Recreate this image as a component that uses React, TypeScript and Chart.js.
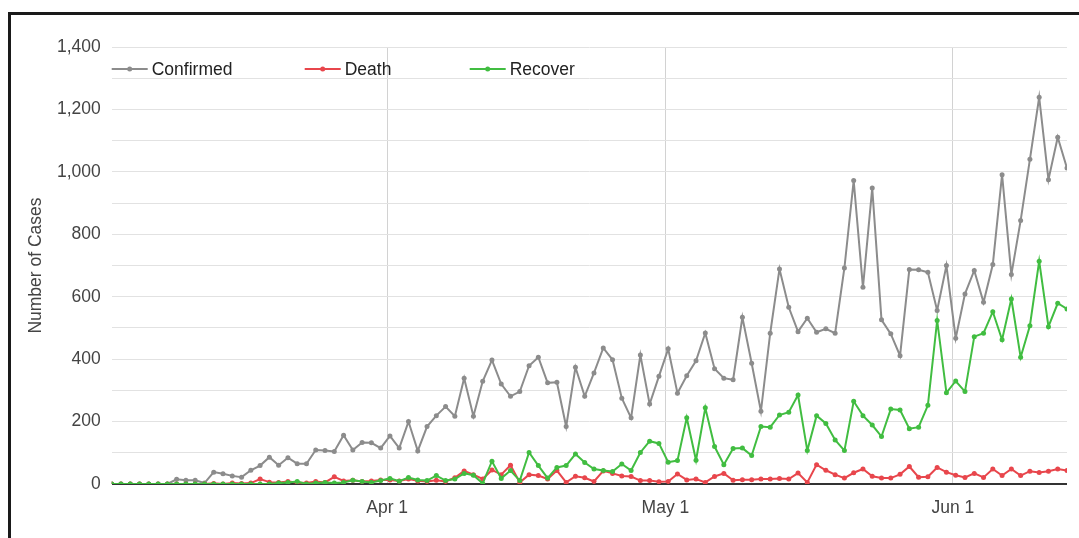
import React, { useEffect, useRef } from 'react';
import { Chart, registerables } from 'chart.js';

Chart.register(...registerables);

// Day 0 = Mar 2 (daily data through Jun 13)
const seriesNames = ['Confirmed', 'Death', 'Recover'];

const confirmed = [
  0, 0, 0, 0, 0, 0, 0, 15, 12, 12, 3, 38, 33, 26, 22, 44, 59, 86,
  60, 84, 65, 65, 109, 107, 104, 156, 109, 133, 132, 115, 154, 115, 200, 106, 184,
  219, 248, 217, 339, 217, 329, 397, 320, 281, 296, 379, 406, 324, 326, 184, 374, 281,
  356, 436, 398, 275, 212, 413, 256, 345, 433, 291, 347, 395, 484, 369, 339, 334, 534, 387,
  233, 483, 689, 566, 488, 531, 486, 497, 483, 692, 972, 630, 948, 526, 481, 411, 687,
  686, 678, 556, 700, 467, 609, 684, 582, 703, 991, 671, 844, 1040, 1239, 975, 1111, 1012,
];

const death = [
  0, 0, 0, 0, 0, 0, 0, 0, 0, 0, 0,
  2, 0, 3, 2, 3, 16,
  6, 5, 8, 5, 3, 8, 5, 23, 10, 12, 8, 10,
  13, 13, 10, 16, 10, 8, 12, 8, 20, 42, 30, 16,
  45, 30, 60, 5, 30, 27, 16, 43, 5, 25, 20, 8,
  42, 34, 26, 24, 11, 11, 7, 8, 32, 13, 16, 5,
  24, 34, 12, 14, 14, 16, 16, 18, 16, 35, 5, 62,
  44, 30, 19, 36, 48, 25, 19, 19, 31, 56, 22, 23,
  53, 38, 28, 21, 34, 21, 48, 27, 48, 27, 41, 37, 41, 48, 43,
];

const recover = [
  0, 0, 0, 0, 0, 0, 0, 0, 0, 0, 0, 0, 0, 0, 0, 0, 0, 0,
  3, 5, 8, 0, 3, 5, 3, 5, 12, 8, 5,
  11, 18, 9, 21, 13, 11, 27, 11, 16, 34, 28, 2,
  73, 18, 43, 11, 101, 59, 19, 53, 59, 96, 69, 48,
  43, 40, 64, 43, 101, 137, 130, 70, 75, 212, 76, 244,
  120, 62, 114, 115, 91, 184, 182, 221, 230, 285, 107, 219,
  194, 141, 107, 265, 219, 189, 152, 240, 237, 177, 182, 252,
  524, 292, 330, 296, 472, 483, 552, 462, 593, 406, 507, 714, 504, 579, 561,
];

const xTickLabels = ['Apr 1', 'May 1', 'Jun 1'];
const xTickDays = [30, 60, 91];

const colors = ['#8c8c8c', '#e8464c', '#41bd41'];
const FONT = 'Arial, "Liberation Sans", sans-serif';

const legendPlugin = {
  id: 'insideLegend',
  afterDraw(chart: any) {
    const { ctx, chartArea } = chart;
    const offsets = [0, 193, 358];
    const y = 69;
    ctx.save();
    ctx.font = `17.5px ${FONT}`;
    ctx.textBaseline = 'middle';
    ctx.textAlign = 'left';
    seriesNames.forEach((name, i) => {
      const x0 = chartArea.left + offsets[i];
      ctx.strokeStyle = colors[i];
      ctx.lineWidth = 2;
      ctx.beginPath();
      ctx.moveTo(x0, y);
      ctx.lineTo(x0 + 36, y);
      ctx.stroke();
      ctx.fillStyle = colors[i];
      ctx.beginPath();
      ctx.arc(x0 + 18, y, 2.5, 0, Math.PI * 2);
      ctx.fill();
      ctx.fillStyle = '#222';
      ctx.fillText(name, x0 + 40, y + 1);
    });
    ctx.restore();
  },
};

export default function App() {
  const ref = useRef<HTMLCanvasElement>(null);

  useEffect(() => {
    if (!ref.current) return;
    const all = [confirmed, death, recover];
    const chart = new Chart(ref.current, {
      type: 'line',
      data: {
        datasets: all.map((arr, i) => ({
          label: seriesNames[i],
          data: arr.map((v, d) => ({ x: d, y: v })),
          borderColor: colors[i],
          backgroundColor: colors[i],
          borderWidth: 2,
          pointRadius: 2.5,
          pointBorderWidth: 0,
          pointBackgroundColor: colors[i],
          tension: 0,
          order: 3 - i,
        })),
      },
      options: {
        animation: false,
        responsive: false,
        devicePixelRatio: 1,
        layout: { padding: { left: 0, top: 47, right: 12, bottom: 0 } },
        plugins: { legend: { display: false }, tooltip: { enabled: false } },
        scales: {
          x: {
            type: 'linear',
            min: 0,
            max: confirmed.length - 1,
            border: { display: false },
            grid: { color: '#d2d2d2', lineWidth: 1, drawTicks: false },
            afterBuildTicks: (scale: any) => {
              scale.ticks = xTickDays.map((d) => ({ value: d - 0.3 }));
            },
            afterFit: (scale: any) => {
              scale.height = 54;
            },
            ticks: {
              autoSkip: false,
              maxRotation: 0,
              padding: 14,
              color: '#444',
              font: { family: FONT, size: 17.5 },
              callback: (_v: any, idx: number) => xTickLabels[idx],
            },
          },
          y: {
            min: 0,
            max: 1400,
            border: { display: false },
            grid: {
              drawTicks: false,
              color: (c: any) => (c.tick && c.tick.value === 0 ? '#333' : '#e2e2e2'),
              lineWidth: (c: any) => (c.tick && c.tick.value === 0 ? 2 : 1),
            },
            afterFit: (scale: any) => {
              scale.width = 111.7;
            },
            title: {
              display: true,
              text: 'Number of Cases',
              color: '#444',
              font: { family: FONT, size: 17.5 },
              padding: { top: 26, bottom: 0 },
            },
            ticks: {
              stepSize: 100,
              autoSkip: false,
              padding: 11,
              color: '#444',
              font: { family: FONT, size: 17.5 },
              callback: (v: any) => (Number(v) % 200 === 0 ? Number(v).toLocaleString('en-US') : ''),
            },
          },
        },
      },
      plugins: [legendPlugin],
    } as any);
    return () => chart.destroy();
  }, []);

  return (
    <div style={{ position: 'fixed', left: 0, top: 0, width: 1079, height: 538, overflow: 'hidden', background: '#fff' }}>
      <div
        style={{
          position: 'absolute',
          left: 8,
          top: 12,
          width: 1200,
          height: 700,
          border: '3px solid #1a1a1a',
          boxSizing: 'border-box',
        }}
      />
      <canvas ref={ref} width={1079} height={538} style={{ position: 'absolute', left: 0, top: 0, display: 'block' }} />
    </div>
  );
}
